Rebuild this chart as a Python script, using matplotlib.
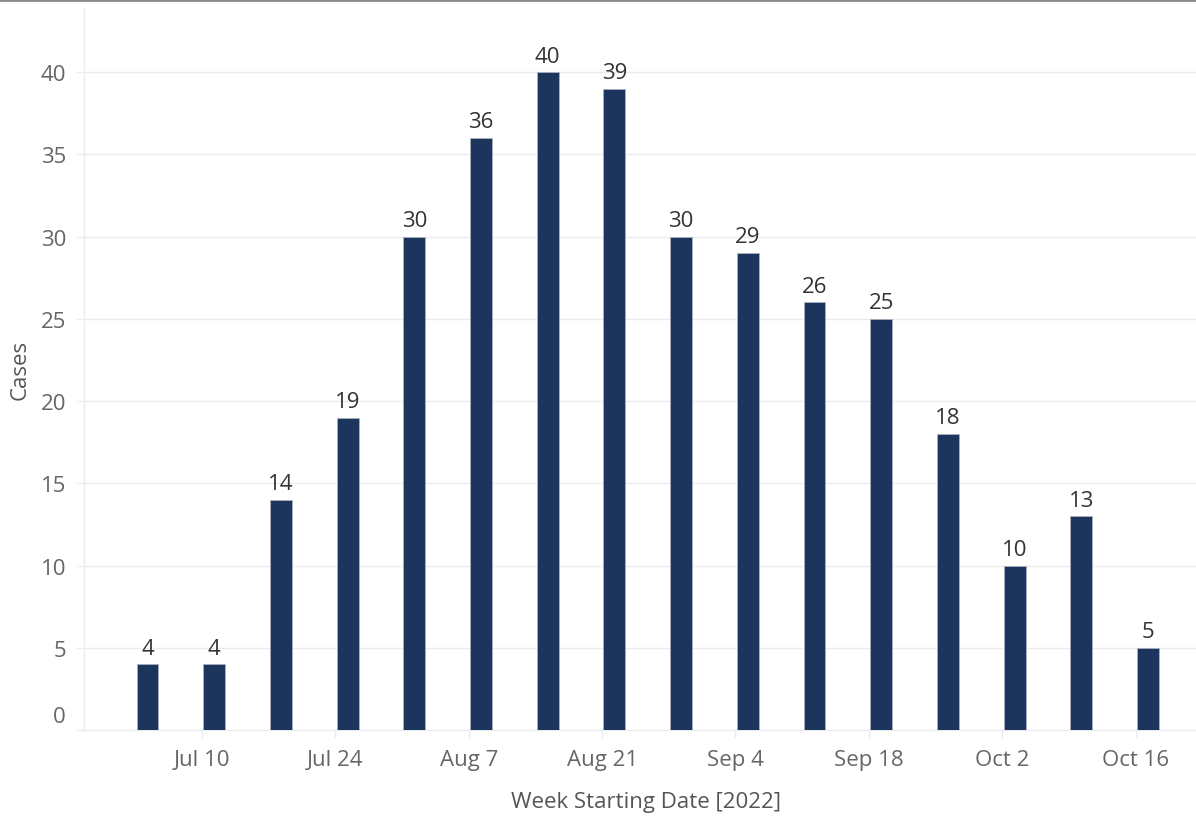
import numpy as np
import pandas as pd
import matplotlib
matplotlib.use("Agg")
import matplotlib.pyplot as plt
from matplotlib.lines import Line2D
from matplotlib.transforms import offset_copy

plt.rcParams['font.family'] = ['Open Sans', 'DejaVu Sans']

week_start = pd.to_datetime([
    "2022-07-03", "2022-07-10", "2022-07-17", "2022-07-24",
    "2022-07-31", "2022-08-07", "2022-08-14", "2022-08-21",
    "2022-08-28", "2022-09-04", "2022-09-11", "2022-09-18",
    "2022-09-25", "2022-10-02", "2022-10-09", "2022-10-16",
])
cases = [4, 4, 14, 19, 30, 36, 40, 39, 30, 29, 26, 25, 18, 10, 13, 5]

tick_dates = pd.to_datetime([
    "2022-07-10", "2022-07-24", "2022-08-07", "2022-08-21",
    "2022-09-04", "2022-09-18", "2022-10-02", "2022-10-16",
])
tick_labels = ["Jul 10", "Jul 24", "Aug 7", "Aug 21", "Sep 4", "Sep 18", "Oct 2", "Oct 16"]
y_ticks = [0, 5, 10, 15, 20, 25, 30, 35, 40]

bar_color = "#1b355d"
grid_color = "#ececec"
tick_color = "#666666"
fs = 16

fig = plt.figure(figsize=(11.96, 8.2), dpi=100)
ax = fig.add_axes([84 / 1196, 89 / 820, 1 - 84 / 1196, 722 / 820])

# bars sit a little right of the week start
x = week_start + pd.Timedelta(hours=31)
ax.bar(x, cases, width=2.3, color=bar_color, edgecolor="#aab2bd", linewidth=0.6, zorder=3)

for xi, v in zip(x, cases):
    ax.annotate(str(v), (xi, v), xytext=(0, 4), textcoords="offset points",
                ha="center", va="bottom", fontsize=fs, color="#333333")

ax.set_xlim(pd.Timestamp("2022-06-27 15:00"), pd.Timestamp("2022-10-22 08:00"))
ax.set_ylim(0, 43.9)

ax.set_xticks(tick_dates)
ax.set_xticklabels(tick_labels)
ax.set_yticks(y_ticks)
ax.set_yticklabels([str(t) for t in y_ticks])
ax.tick_params(axis="both", colors=grid_color, labelcolor=tick_color, labelsize=fs,
               length=6, width=1)
ax.tick_params(axis="x", pad=8)
ax.tick_params(axis="y", pad=7)

# plotly pushes the zero label up off the axis line
lab0 = ax.get_yticklabels()[0]
lab0.set_transform(offset_copy(lab0.get_transform(), fig=fig, x=0, y=16, units="dots"))

ax.grid(axis="y", color=grid_color, linewidth=1, zorder=0)
for side in ["top", "right"]:
    ax.spines[side].set_visible(False)
for side in ["left", "bottom"]:
    ax.spines[side].set_color(grid_color)
    ax.spines[side].set_linewidth(1)

fig.text(646 / 1196, 1 - 803 / 820, "Week Starting Date [2022]", ha="center", va="center",
         fontsize=fs, color="#555555")
fig.text(20 / 1196, 1 - 370 / 820, "Cases", ha="center", va="center", rotation=90,
         fontsize=fs, color="#555555")

fig.add_artist(Line2D([0, 1], [1 - 1 / 820, 1 - 1 / 820], transform=fig.transFigure,
                      color="#8a8a8a", linewidth=2))

fig.savefig("out.png", dpi=100)
